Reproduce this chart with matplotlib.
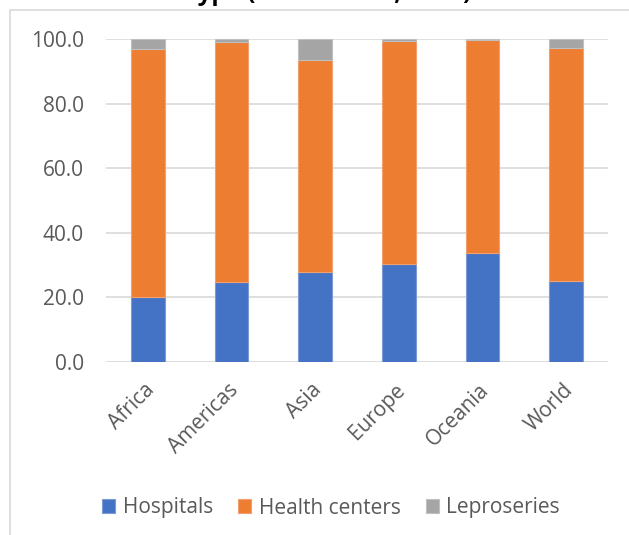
import matplotlib.pyplot as plt
import matplotlib.transforms as mtransforms
import numpy as np
from matplotlib.patches import Rectangle

regions = ["Africa", "Americas", "Asia", "Europe", "Oceania", "World"]
hospitals = [20.2, 24.8, 27.7, 30.2, 33.8, 25.1]
health_centers = [76.8, 74.5, 65.9, 69.2, 65.9, 72.3]
leproseries = [3.0, 0.7, 6.4, 0.6, 0.3, 2.6]
y_ticks = [0, 20, 40, 60, 80, 100]

plt.rcParams['font.family'] = ['Open Sans', 'DejaVu Sans']

fig = plt.figure(figsize=(6.29, 5.35), dpi=100)
ax = fig.add_axes([0.1685, 0.324, 0.798, 0.6025])

x = np.arange(len(regions))
w = 0.4
hosp = np.array(hospitals)
hc = np.array(health_centers)
ax.bar(x, hosp, width=w, color="#4472C4", ec="#7b9ad6", lw=0.8, label="Hospitals", zorder=3)
ax.bar(x, hc, width=w, bottom=hosp, color="#ED7D31", ec="#f2a06f", lw=0.8, label="Health centers", zorder=3)
ax.bar(x, leproseries, width=w, bottom=hosp + hc, color="#A5A5A5", ec="#c0c0c0", lw=0.8,
       label="Leproseries", zorder=3)

ax.set_xlim(-0.5, len(regions) - 0.5)
ax.set_ylim(0, 100)
ax.set_yticks(y_ticks)
ax.set_yticklabels(["%.1f" % v for v in y_ticks], fontsize=15, color="#595959")
ax.set_xticks(x)
ax.set_xticklabels(regions, rotation=45, ha="right", rotation_mode="anchor",
                   fontsize=15, color="#595959")
ax.tick_params(axis="y", length=0, pad=16)
ax.tick_params(axis="x", length=0, pad=13)
shift = mtransforms.ScaledTranslation(-4 / 100, 0, fig.dpi_scale_trans)
for lab in ax.get_xticklabels():
    lab.set_transform(lab.get_transform() + shift)
ax.grid(axis="y", color="#d9d9d9", lw=1.2, zorder=0)
for s in ax.spines.values():
    s.set_visible(False)

fig.legend(loc="center", bbox_to_anchor=(0.526, 1 - 508 / 535), ncol=3, frameon=False,
           fontsize=15, handlelength=0.65, handleheight=0.65, handletextpad=0.35,
           columnspacing=1.2, labelcolor="#595959")

# chart border (partly outside the image)
fig.patches.append(Rectangle((10 / 629, -0.1), 1.2, 1 - 10 / 535 + 0.1, transform=fig.transFigure,
                             fill=False, ec="#d9d9d9", lw=1.2))
fig.text(0.521, 1 - 0.5 / 535, "Type (Shares in %, 2019)", ha="center", va="baseline",
         fontsize=17.5, fontweight="bold", color="black")

fig.savefig("out.png", dpi=100)
